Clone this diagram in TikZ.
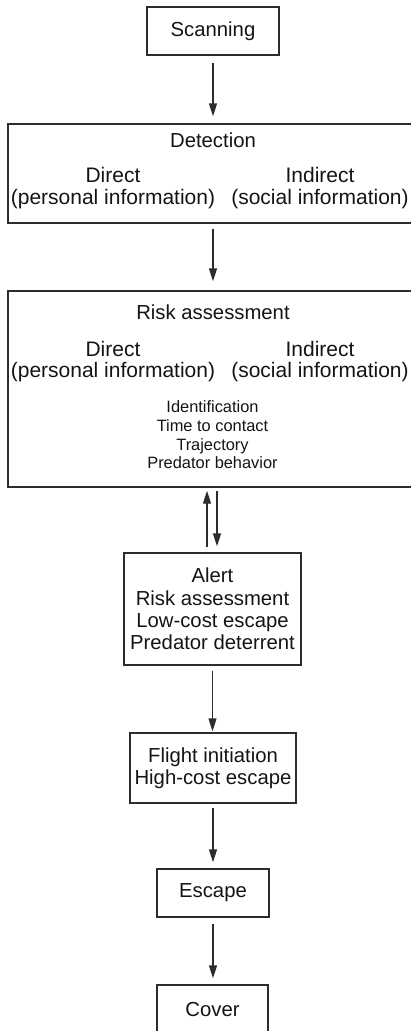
\documentclass[tikz,border=0pt]{standalone}
\usepackage{fontspec}
\setmainfont{Liberation Sans}
\usetikzlibrary{arrows.meta}
\definecolor{linec}{RGB}{45,45,45}
\definecolor{textc}{RGB}{20,20,20}
\begin{document}
\begin{tikzpicture}[x=1pt,y=-1pt,
  box/.style={draw=linec,line width=1.4pt,rectangle,inner sep=0pt,text=textc,align=center,
    font=\fontsize{20.3}{22.4}\selectfont},
  lbl/.style={inner sep=0pt,text=textc,align=center,font=\fontsize{20.3}{22}\selectfont},
  sub/.style={inner sep=0pt,text=textc,align=center,font=\fontsize{21}{21.5}\selectfont},
  small/.style={inner sep=0pt,text=textc,align=center,font=\fontsize{16.4}{18.7}\selectfont},
  arr/.style={draw=linec,line width=1.4pt,-{Triangle[length=13pt,width=8pt]}}]
\useasboundingbox (0,0) rectangle (411,1031);
\clip (0,0) rectangle (411,1031);
\node[box,minimum width=132,minimum height=48] (scan) at (213,31) {Scanning};
\node[box,minimum width=410,minimum height=99] (det) at (213,173.5) {};
\node[lbl] (dett) at (213,140) {Detection};
\node[sub] (detd) at (113,188) {Direct\\(personal information)};
\node[sub] (deti) at (320,188) {Indirect\\(social information)};
\node[box,minimum width=410,minimum height=196] (risk) at (213,389) {};
\node[lbl] (riskt) at (213,312) {Risk assessment};
\node[sub] (riskd) at (113,361.5) {Direct\\(personal information)};
\node[sub] (riski) at (320,361.5) {Indirect\\(social information)};
\node[small] (riskl) at (212.5,435) {Identification\\Time to contact\\Trajectory\\Predator behavior};
\node[box,minimum width=177,minimum height=112] (alert) at (212.5,609) {Alert\\Risk assessment\\Low-cost escape\\Predator deterrent};
\node[box,minimum width=166,minimum height=70] (flight) at (213,768) {Flight initiation\\High-cost escape};
\node[box,minimum width=112,minimum height=48] (escape) at (213,893) {Escape};
\node[box,minimum width=111,minimum height=48] (cover) at (212.5,1009) {Cover};
\draw[arr,shorten <=7pt,shorten >=7pt] (scan.south) -- (scan.south |- det.north);
\draw[arr,shorten <=5pt,shorten >=9pt] (det.south) -- (risk.north);
\draw[arr,shorten <=5pt,shorten >=3pt] ([xshift=-5.5pt]alert.north) -- ([xshift=-5.5pt]alert.north |- risk.south);
\draw[arr,shorten <=3pt,shorten >=6pt] ([xshift=4.5pt]alert.north |- risk.south) -- ([xshift=4.5pt]alert.north);
\draw[arr,shorten <=5pt,shorten >=1pt] (alert.south) -- (alert.south |- flight.north);
\draw[arr,shorten <=4pt,shorten >=6pt] (flight.south) -- (escape.north);
\draw[arr,shorten <=6pt,shorten >=6pt] (escape.south) -- (escape.south |- cover.north);
\end{tikzpicture}
\end{document}
